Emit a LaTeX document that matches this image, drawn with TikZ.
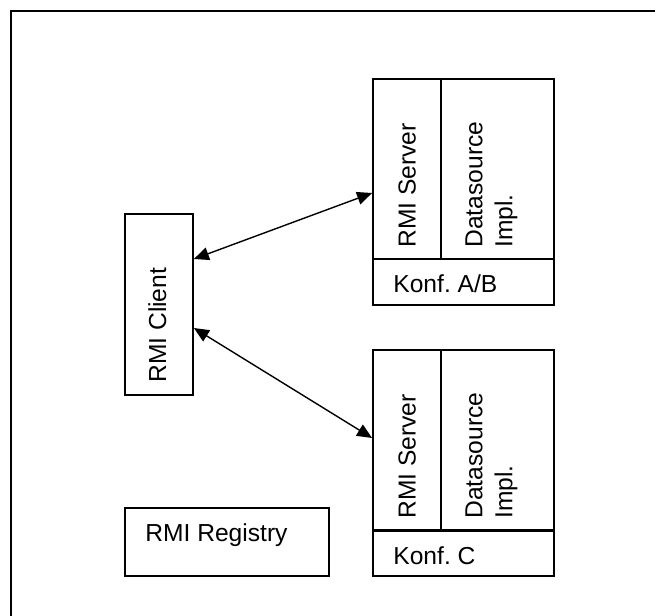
\documentclass[tikz,border=0pt]{standalone}
\usepackage{fontspec}
\setmainfont{Liberation Sans}
\usetikzlibrary{arrows.meta}
\frenchspacing

\tikzset{
  box/.style={draw,line width=.9pt,inner sep=0pt},
  lbl/.style={inner sep=0pt,font=\fontsize{12.3}{15}\selectfont},
  vlbl/.style={lbl,rotate=90,anchor=north west,align=left},
  link/.style={line width=.7pt,{Triangle[length=7.5pt,width=6.5pt]}-{Triangle[length=7.5pt,width=6.5pt]}}
}

\begin{document}
\begin{tikzpicture}[x=.5pt,y=-.5pt]
\useasboundingbox (0,0) rectangle (655,616);
\draw [line width=.9pt] (11,616) |- (655,11);

% client
\node [box,minimum width=34pt,minimum height=90.5pt] (client) at (159,304.5) {};
\node [vlbl] (clientlbl) at (148,383) {RMI Client};

% server for A/B
\node [box,minimum width=34pt,minimum height=90pt] (srvab) at (407,169) {};
\node [box,minimum width=56.5pt,minimum height=90pt] (dsab) at (497.5,169) {};
\node [box,minimum width=90.5pt,minimum height=23pt] (konfab) at (463.5,282) {};
\node [vlbl] (srvablbl) at (398,248) {RMI Server};
\node [vlbl] (dsablbl) at (465,248) {Datasource\\Impl.};
\node [lbl,anchor=base west] (konfablbl) at (393,292) {Konf. A/B};

% server for C
\node [box,minimum width=34pt,minimum height=90pt] (srvc) at (407,440) {};
\node [box,minimum width=56.5pt,minimum height=90pt] (dsc) at (497.5,440) {};
\node [box,minimum width=90.5pt,minimum height=22.5pt] (konfc) at (463.5,553.5) {};
\node [vlbl] (srvclbl) at (398,519) {RMI Server};
\node [vlbl] (dsclbl) at (465,519) {Datasource\\Impl.};
\node [lbl,anchor=base west] (konfclbl) at (393,564) {Konf. C};

% registry
\node [box,minimum width=102pt,minimum height=34pt] (registry) at (227,542) {};
\node [lbl,anchor=base west] (registrylbl) at (145,541) {RMI Registry};

\draw [link] ([yshift=22.75pt]client.east) -- ([yshift=-12pt]srvab.west);
\draw [link] ([yshift=-11.75pt]client.east) -- ([yshift=1pt]srvc.west);
\end{tikzpicture}
\end{document}
